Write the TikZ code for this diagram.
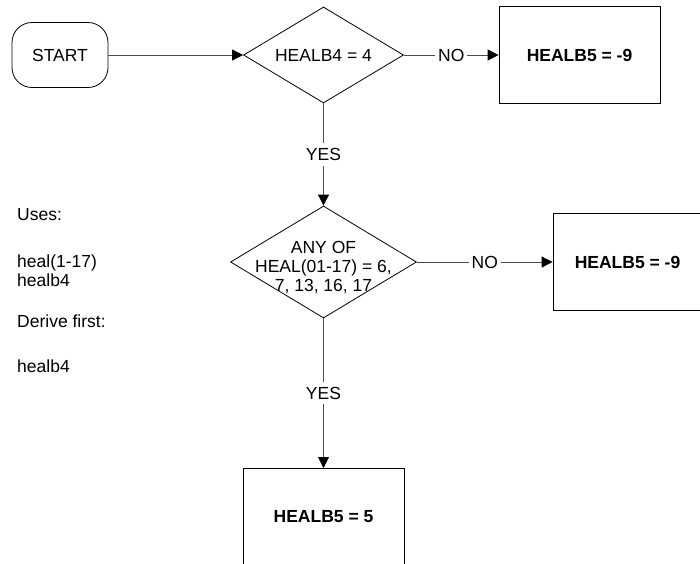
\documentclass[tikz,border=0pt]{standalone}
\usepackage{fontspec}
\setmainfont{Liberation Sans}
\usetikzlibrary{arrows.meta,shapes.geometric,positioning}
\newcommand\chartfont{\fontsize{17.5}{19}\selectfont}
\tikzset{
  terminal/.style={draw, rounded corners=20pt, minimum width=96pt, minimum height=65pt, line width=0.8pt},
  decision/.style={draw, diamond, aspect=1.667, inner sep=0pt, line width=0.8pt},
  process/.style={draw, rectangle, minimum width=161pt, minimum height=97pt, font=\chartfont\bfseries, line width=0.8pt},
  flow/.style={draw=black!70, line width=0.8pt, -{Triangle[length=11pt,width=11pt,color=black]}},
  answer/.style={fill=white, inner xsep=3pt, inner ysep=5pt},
  note/.style={align=left, anchor=north west, inner sep=0pt}
}

\begin{document}
\begin{tikzpicture}[x=1pt, y=-1pt, font=\chartfont]
  \clip (0,0) rectangle (700,563);
  \node[terminal] (start) at (60,55) {START};
  \node[decision, minimum width=160pt, minimum height=96pt] (d1) at (323.5,55) {HEALB4 = 4};
  \node[process] (b1) at (579.5,55) {HEALB5 = -9};
  \node[decision, minimum width=186pt, minimum height=112pt] (d2) at (323.5,262) {};
  \node[align=center] (d2text) at ([yshift=-6pt]d2.center) {ANY OF\\HEAL(01-17) = 6,\\7, 13, 16, 17};
  \node[process, minimum width=149pt] (b2) at (627.5,262) {HEALB5 = -9};
  \node[process, anchor=north] (b3) at (323.5,468) {HEALB5 = 5};
  \node[note] (uses) at (17,208.5) {Uses:\\[28pt]heal(1-17)\\healb4\\[22pt]Derive first:\\[26pt]healb4};
  \draw[flow] (start) -- (d1);
  \draw[flow] (d1) -- node[answer] (no1) {NO} (b1);
  \draw[flow] (d1) -- node[answer] (yes1) {YES} (d2);
  \draw[flow] (d2) -- node[answer] (no2) {NO} (b2);
  \draw[flow] (d2) -- node[answer] (yes2) {YES} (b3);
\end{tikzpicture}
\end{document}
